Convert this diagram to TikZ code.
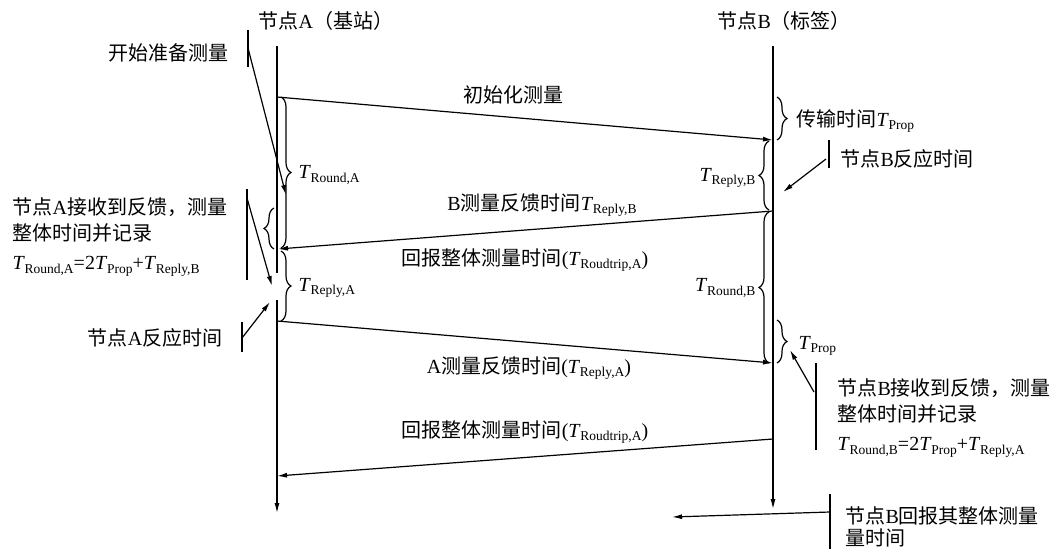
\documentclass[tikz,border=0pt]{standalone}
\usepackage{fontspec}
\setmainfont{Liberation Serif}
\newfontfamily\zh{Noto Sans CJK SC}
\usetikzlibrary{arrows.meta,decorations.pathreplacing}
\newcommand\TS[1]{\textit{T}\kern-0.3pt\raisebox{-0.4ex}{\fontsize{13.5}{13.5}\selectfont #1}}
\begin{document}
\begin{tikzpicture}[x=1pt,y=-1pt,line width=1.2pt,
  txt/.style={inner sep=0pt,font=\fontsize{20}{26}\selectfont},
  multi/.style={txt,align=left,anchor=north west},
  arr/.style={-{Latex[length=10pt,width=5pt]}},
  br/.style={decorate,decoration={brace,amplitude=10pt}}]
\useasboundingbox (0,0) rectangle (1055,549);

% lifelines
\coordinate (A0) at (277,46);
\coordinate (Ag1) at (277,273);
\coordinate (Ag2) at (277,300);
\coordinate (Aend) at (277,513);
\coordinate (B0) at (773,46);
\coordinate (Bend) at (773,509);
\draw (A0) -- (Ag1);
\draw[arr] (Ag2) -- (Aend);
\draw[arr] (B0) -- (Bend);

\node[txt,anchor=west] (hA) at (258,21) {{\zh 节点}A{\zh （基站）}};
\node[txt,anchor=west] (hB) at (717,21) {{\zh 节点}B{\zh （标签）}};

% messages
\coordinate (a1) at (277,97);
\coordinate (b1) at (773,140);
\coordinate (b2) at (773,211);
\coordinate (a2) at (278,249);
\coordinate (a3) at (277,321);
\coordinate (b3) at (773,363);
\coordinate (b4) at (773,439);
\coordinate (a4) at (277,476);
\draw[arr] (a1) -- (b1);
\draw[arr] (b2) -- (a2);
\draw[arr] (a3) -- (b3);
\draw[arr] (b4) -- (a4);

\node[txt] (m1) at (513,95) {{\zh 初始化测量}};
\node[txt] (m2) at (542,205) {B{\zh 测量反馈时间}\TS{Reply,B}};
\node[txt] (m3) at (525,260) {{\zh 回报整体测量时间}(\TS{Roudtrip,A})};
\node[txt] (m4) at (529,368) {A{\zh 测量反馈时间}(\TS{Reply,A})};
\node[txt] (m5) at (525,432) {{\zh 回报整体测量时间}(\TS{Roudtrip,A})};

% braces
\draw[br] (281,97) -- (281,248);
\draw[br] (281,251) -- (281,321);
\draw[br] (274,249) -- (274,208);
\draw[br] (777,97) -- (777,140);
\draw[br] (769,210) -- (769,141);
\draw[br] (769,363) -- (769,212);
\draw[br] (777,320) -- (777,363);

\node[txt,anchor=west] (lRA) at (298,175) {\TS{Round,A}};
\node[txt,anchor=west] (lPA) at (298,288) {\TS{Reply,A}};
\node[txt,anchor=west] (lP1) at (796,121) {{\zh 传输时间}\TS{Prop}};
\node[txt,anchor=east] (lRB) at (756,178) {\TS{Reply,B}};
\node[txt,anchor=east] (lRdB) at (756,288) {\TS{Round,B}};
\node[txt,anchor=west] (lP2) at (798,346) {\TS{Prop}};

% annotations, left
\node[txt,anchor=east] (n1) at (229,53) {{\zh 开始准备测量}};
\coordinate (n1t) at (248,30);
\coordinate (n1b) at (248,67);
\coordinate (n1s) at (248,48);
\coordinate (n1e) at (286,195);
\draw (n1t) -- (n1b);
\draw[arr] (n1s) -- (n1e);

\node[multi] (n2) at (12,197) {{\zh 节点}A{\zh 接收到反馈，测量}\\{\zh 整体时间并记录}\\[3pt]\TS{Round,A}=2\TS{Prop}+\TS{Reply,B}};
\coordinate (n2t) at (247,189);
\coordinate (n2b) at (247,280);
\coordinate (n2s) at (247,198);
\coordinate (n2e) at (272,286);
\draw (n2t) -- (n2b);
\draw[arr] (n2s) -- (n2e);

\node[txt,anchor=east] (n3) at (223,338) {{\zh 节点}A{\zh 反应时间}};
\coordinate (n3t) at (242,322);
\coordinate (n3b) at (242,352);
\coordinate (n3s) at (242,338);
\coordinate (n3e) at (270,302);
\draw (n3t) -- (n3b);
\draw[arr] (n3s) -- (n3e);

% annotations, right
\node[txt,anchor=west] (n4) at (840,159) {{\zh 节点}B{\zh 反应时间}};
\coordinate (n4t) at (829,140);
\coordinate (n4b) at (829,168);
\coordinate (n4s) at (826,159);
\coordinate (n4e) at (783,192);
\draw (n4t) -- (n4b);
\draw[arr] (n4s) -- (n4e);

\node[multi] (n5) at (837,378) {{\zh 节点}B{\zh 接收到反馈，测量}\\{\zh 整体时间并记录}\\[3pt]\TS{Round,B}=2\TS{Prop}+\TS{Reply,A}};
\coordinate (n5t) at (816,363);
\coordinate (n5b) at (816,450);
\coordinate (n5s) at (814,392);
\coordinate (n5e) at (790,350);
\draw (n5t) -- (n5b);
\draw[arr] (n5s) -- (n5e);

\node[multi] (n6) at (845,506) {{\zh 节点}B{\zh 回报其整体测量}\\[-4pt]{\zh 量时间}};
\coordinate (n6t) at (830,494);
\coordinate (n6b) at (830,549);
\coordinate (n6s) at (830,512);
\coordinate (n6e) at (672,517);
\draw (n6t) -- (n6b);
\draw[arr] (n6s) -- (n6e);
\end{tikzpicture}
\end{document}
